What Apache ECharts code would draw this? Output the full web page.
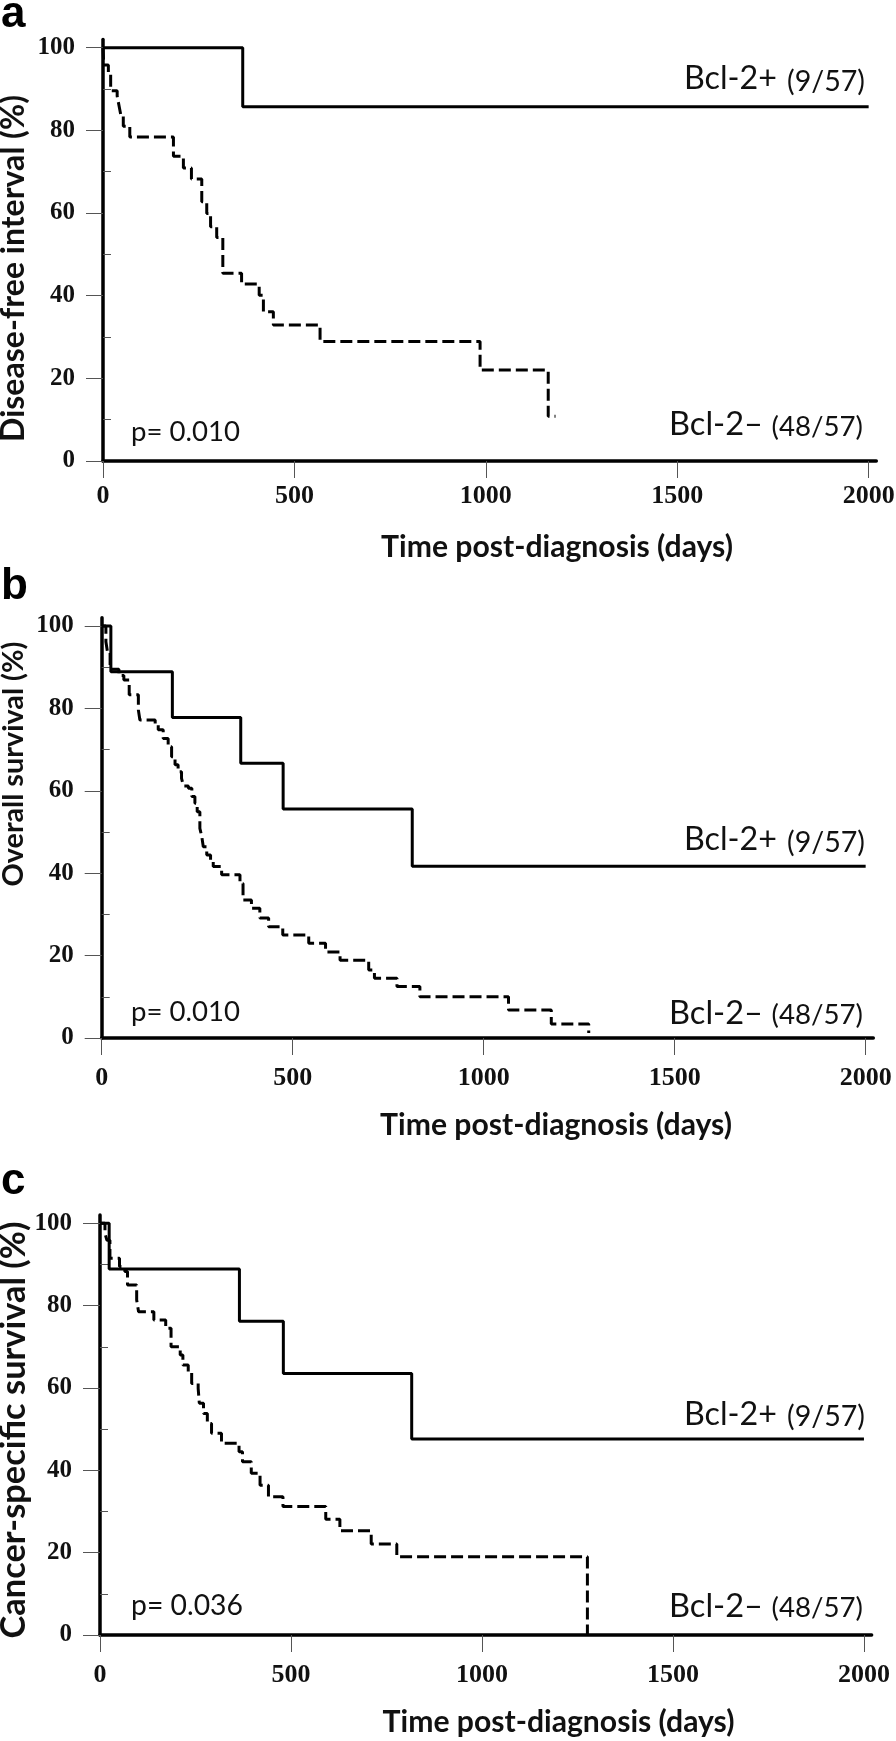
<!DOCTYPE html>
<html><head><meta charset="utf-8">
<script src="https://cdn.jsdelivr.net/npm/echarts@6/dist/echarts.min.js"></script>
<style>html,body{margin:0;padding:0;background:#fff}#chart{width:896px;height:1741px}</style>
</head><body><div id="chart"></div>
<script>
// ---------------- data ----------------
const panelLetters = ['a', 'b', 'c'];
const yTitles = ['Disease-free interval (%)', 'Overall survival (%)', 'Cancer-specific survival (%)'];
const xTitle = 'Time post-diagnosis (days)';
const xTicks = [0, 500, 1000, 1500, 2000];
const yTicks = [0, 20, 40, 60, 80, 100];
const yMinorTicks = [10, 30, 50, 70, 90];
const posLabel = 'Bcl-2+', posCount = '(9/57)';
const negLabel = 'Bcl-2–', negCount = '(48/57)';
const pValues = ['p= 0.010', 'p= 0.010', 'p= 0.036'];

// a: disease-free interval
const dfiPosDays = [0, 365, 2000];
const dfiPosPct  = [100, 85.7, 85.7];
const dfiNegDays = [0, 2, 14, 20, 37, 42, 47, 53, 70, 184, 210, 231, 258, 271, 281, 297, 313, 362, 408, 419, 445, 567, 985, 1163, 1182];
const dfiNegPct  = [100, 95.8, 93.8, 89.6, 88.3, 85.9, 83.5, 81.0, 78.4, 73.7, 70.9, 68.2, 62.7, 59.9, 56.7, 54.1, 45.4, 42.8, 40.1, 36.1, 32.9, 28.9, 22.0, 10.8, 10.8];

// b: overall survival
const osPosDays = [0, 24, 185, 364, 475, 813, 2000];
const osPosPct  = [100, 88.9, 77.8, 66.7, 55.6, 41.7, 41.7];
const osNegDays = [0, 11, 15, 22, 45, 58, 72, 96, 100, 140, 148, 161, 174, 183, 192, 200, 209, 214, 227, 236, 244, 250, 257, 262, 266, 275, 285, 292, 314, 362, 370, 392, 414, 437, 474, 542, 586, 624, 699, 714, 773, 833, 1065, 1177, 1275];
const osNegPct  = [100, 96.2, 93.8, 89.5, 88.0, 86.9, 83.3, 79.6, 77.2, 76.0, 74.8, 72.7, 70.7, 68.3, 66.3, 64.6, 63.0, 61.2, 60.6, 58.6, 57.0, 54.9, 50.9, 48.9, 46.4, 44.4, 43.2, 41.6, 39.6, 37.5, 33.5, 31.5, 29.1, 27.0, 25.0, 23.0, 20.9, 18.9, 16.5, 14.5, 12.5, 10.0, 6.8, 3.4, 1.2];

// c: cancer-specific survival
const cssPosDays = [0, 24, 365, 480, 816, 2000];
const cssPosPct  = [100, 88.9, 76.2, 63.5, 47.6, 47.6];
const cssNegDays = [0, 13, 18, 26, 51, 65, 72, 96, 101, 141, 172, 186, 210, 217, 231, 240, 257, 260, 271, 281, 292, 318, 364, 373, 396, 419, 441, 479, 591, 628, 710, 777, 1276];
const cssNegPct  = [100, 97.6, 95.9, 91.5, 89.5, 88.3, 85.0, 81.4, 78.5, 76.5, 74.5, 70.0, 68.0, 65.6, 64.0, 61.1, 59.9, 56.3, 53.8, 51.4, 49.0, 46.6, 44.5, 42.1, 39.3, 36.4, 33.6, 31.2, 28.1, 25.3, 22.1, 19.0, 0];

// ---------------- layout ----------------
const panels = [
  { left: 103,   top: 39.4,   width: 773.3, height: 421.6, labelMargin: 22,
    letterY: 14.8, yTitleY: 268.5, yTitleLen: 347, xTitleX: 557, xTitleY: 547.5,
    posY: 79, negY: 424.5, pY: 432.5 },
  { left: 101.7, top: 617.8,  width: 771.6, height: 420.2, labelMargin: 27,
    letterY: 586.8, yTitleY: 764, yTitleLen: 245, xTitleX: 556, xTitleY: 1125,
    posY: 840, negY: 1013, pY: 1012 },
  { left: 100,   top: 1215.1, width: 771.6, height: 419.9, labelMargin: 27,
    letterY: 1181.5, yTitleY: 1430, yTitleLen: 417, xTitleX: 558.5, xTitleY: 1722.5,
    posY: 1414.5, negY: 1606, pY: 1606 }
];

const zip = (a, b) => a.map((v, i) => [v, b[i]]);
const curves = [
  [zip(dfiNegDays, dfiNegPct), zip(dfiPosDays, dfiPosPct)],
  [zip(osNegDays, osNegPct), zip(osPosDays, osPosPct)],
  [zip(cssNegDays, cssNegPct), zip(cssPosDays, cssPosPct)]
];

const ctx = document.createElement('canvas').getContext('2d');
function fit(text, weight, family, target) {
  ctx.font = weight + ' 100px ' + family;
  return 100 * target / ctx.measureText(text).width;
}
const SANS = 'Lato';
const TXT = '#111';

const grid = [], xAxis = [], yAxis = [], series = [], graphic = [];
panels.forEach((p, i) => {
  grid.push({ left: p.left, top: p.top, width: p.width, height: p.height, containLabel: false, outerBoundsMode: 'none' });
  xAxis.push({
    gridIndex: i, type: 'value', min: 0, max: 2020,
    axisLine: { show: true, onZero: false, lineStyle: { color: '#000', width: 3.5 } },
    axisTick: { show: true, length: 17, customValues: xTicks, lineStyle: { color: '#555', width: 1 } },
    axisLabel: { customValues: xTicks, formatter: v => String(v), margin: p.labelMargin,
      fontFamily: 'Liberation Serif', fontWeight: 'bold', fontSize: 26, color: TXT },
    splitLine: { show: false }
  });
  yAxis.push({
    gridIndex: i, type: 'value', min: 0, max: 102,
    axisLine: { show: true, onZero: false, lineStyle: { color: '#000', width: 3.5 } },
    axisTick: { show: true, length: 17, customValues: yTicks, lineStyle: { color: '#555', width: 1 } },
    axisLabel: { customValues: yTicks, formatter: v => String(v), margin: 28,
      fontFamily: 'Liberation Serif', fontWeight: 'bold', fontSize: 25, color: TXT },
    splitLine: { show: false }
  });
  yAxis.push({
    gridIndex: i, type: 'value', min: 0, max: 102,
    axisLine: { show: false },
    axisTick: { show: true, length: 8, customValues: yMinorTicks, lineStyle: { color: '#555', width: 1 } },
    axisLabel: { show: false },
    splitLine: { show: false }
  });
  series.push({
    type: 'line', xAxisIndex: i, yAxisIndex: 2 * i, data: curves[i][0], step: 'end',
    symbol: 'none', silent: true, animation: false,
    lineStyle: { color: '#000', width: 3, type: [12, 5] }
  });
  series.push({
    type: 'line', xAxisIndex: i, yAxisIndex: 2 * i, data: curves[i][1], step: 'end',
    symbol: 'none', silent: true, animation: false,
    lineStyle: { color: '#000', width: 3 }
  });

  // panel letter
  graphic.push({ type: 'text', x: 1, y: p.letterY, style: { text: panelLetters[i], font: 'bold 44px "Liberation Sans"', fill: '#000', align: 'left', verticalAlign: 'middle' } });
  // y title
  const yfs = fit(yTitles[i], 'bold', SANS, p.yTitleLen);
  graphic.push({ type: 'text', x: 14, y: p.yTitleY, rotation: Math.PI / 2,
    style: { text: yTitles[i], font: 'bold ' + yfs.toFixed(2) + 'px ' + SANS, fill: TXT, align: 'center', verticalAlign: 'middle' } });
  // x title
  const xfs = fit(xTitle, 'bold', SANS, 352);
  graphic.push({ type: 'text', x: p.xTitleX, y: p.xTitleY,
    style: { text: xTitle, font: 'bold ' + xfs.toFixed(2) + 'px ' + SANS, fill: TXT, align: 'center', verticalAlign: 'middle' } });
  // group labels
  const f1 = fit(posLabel, 'normal', SANS, 93), f2 = fit(posCount, 'normal', SANS, 78);
  graphic.push({ type: 'text', x: 777, y: p.posY, style: { text: posLabel, font: f1.toFixed(2) + 'px ' + SANS, fill: TXT, align: 'right', verticalAlign: 'middle' } });
  graphic.push({ type: 'text', x: 865, y: p.posY + 2.5, style: { text: posCount, font: f2.toFixed(2) + 'px ' + SANS, fill: TXT, align: 'right', verticalAlign: 'middle' } });
  const f3 = fit(negLabel, 'normal', SANS, 94), f4 = fit(negCount, 'normal', SANS, 91.5);
  graphic.push({ type: 'text', x: 763, y: p.negY, style: { text: negLabel, font: f3.toFixed(2) + 'px ' + SANS, fill: TXT, align: 'right', verticalAlign: 'middle' } });
  graphic.push({ type: 'text', x: 863, y: p.negY + 2.5, style: { text: negCount, font: f4.toFixed(2) + 'px ' + SANS, fill: TXT, align: 'right', verticalAlign: 'middle' } });
  // p value
  const f5 = fit(pValues[i], 'normal', SANS, i === 2 ? 112 : 109);
  graphic.push({ type: 'text', x: 131, y: p.pY, style: { text: pValues[i], font: f5.toFixed(2) + 'px ' + SANS, fill: TXT, align: 'left', verticalAlign: 'middle' } });
});

const chart = echarts.init(document.getElementById('chart'), null, { renderer: 'canvas' });
chart.setOption({
  backgroundColor: '#fff',
  animation: false,
  grid, xAxis, yAxis, series, graphic
});
</script></body></html>
